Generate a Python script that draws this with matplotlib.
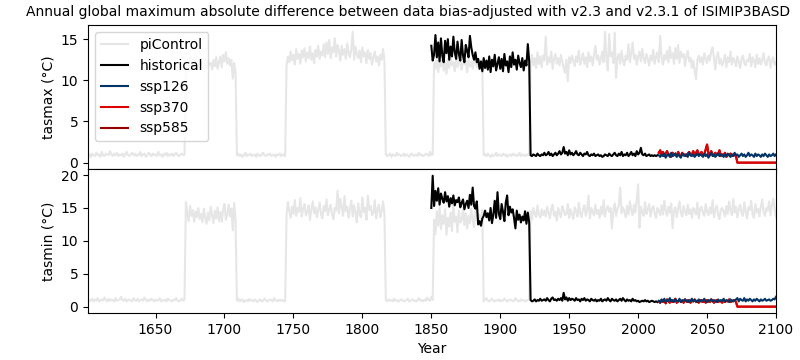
import numpy as np
import matplotlib
matplotlib.use("Agg")
import matplotlib.pyplot as plt

# ───────────── years ─────────────
years_picontrol = np.arange(1601, 2101)
years_historical = np.arange(1850, 2015)
years_ssp = np.arange(2015, 2101)
year_ticks = [1650, 1700, 1750, 1800, 1850, 1900, 1950, 2000, 2050, 2100]

# ───────────── tasmax ─────────────
picontrol_tasmax = [
    # 1601-1671
    0.8, 1.0, 0.7, 1.1, 0.9, 0.8, 1.2, 0.9, 1.0, 0.7,
    1.3, 0.9, 0.8, 1.1, 1.0, 0.9, 1.4, 1.0, 0.8, 1.1,
    0.9, 1.2, 0.8, 1.0, 0.9, 1.1, 0.7, 1.0, 1.3, 0.9,
    0.8, 1.0, 1.2, 0.9, 1.1, 0.8, 1.0, 0.9, 1.3, 0.8,
    1.0, 1.1, 0.7, 0.9, 1.2, 1.0, 0.8, 1.1, 0.9, 1.0,
    0.8, 1.3, 0.9, 1.0, 0.7, 1.1, 0.9, 1.2, 0.8, 1.0,
    0.9, 1.1, 0.8, 1.0, 1.2, 0.9, 0.8, 1.0, 1.1, 0.9,
    1.0,
    # 1672-1708
    11.6, 12.3, 11.2, 12.8, 11.9, 12.5, 11.4, 12.9, 12.0, 11.3,
    12.6, 11.8, 12.2, 11.1, 12.7, 11.5, 12.4, 11.9, 12.1, 11.3,
    12.5, 11.7, 12.8, 11.4, 12.2, 12.9, 11.6, 13.1, 12.3, 13.4,
    12.0, 12.7, 11.8, 12.5, 10.2, 12.1, 11.0,
    # 1709-1744
    0.9, 1.1, 0.8, 1.0, 0.7, 0.9, 1.2, 0.8, 1.0, 0.9,
    1.1, 0.8, 0.9, 1.0, 0.7, 1.1, 0.9, 0.8, 1.0, 1.2,
    0.9, 0.8, 1.0, 0.9, 1.1, 0.8, 0.9, 1.0, 0.7, 1.0,
    0.9, 1.1, 0.8, 1.0, 0.9, 0.8,
    # 1745-1816
    11.8, 12.9, 12.2, 13.5, 12.4, 13.1, 11.9, 13.8, 12.6, 13.2,
    12.0, 13.6, 12.8, 13.9, 12.3, 13.4, 12.7, 14.1, 12.5, 13.3,
    12.1, 13.7, 12.9, 14.2, 12.6, 13.5, 13.0, 14.4, 12.8, 14.6,
    13.2, 14.9, 12.7, 14.0, 13.4, 15.1, 12.9, 14.3, 13.6, 12.4,
    14.2, 13.1, 13.8, 12.6, 14.5, 13.3, 12.8, 13.9, 15.9, 12.5,
    14.1, 13.2, 12.7, 13.6, 12.2, 14.0, 12.9, 13.4, 12.1, 13.7,
    12.6, 13.3, 11.9, 12.8, 13.5, 12.3, 12.9, 11.8, 13.1, 12.5,
    13.8, 12.4,
    # 1817-1851
    1.0, 0.8, 0.9, 1.1, 0.7, 1.0, 0.9, 0.8, 1.2, 0.9,
    1.0, 0.8, 0.9, 1.1, 0.8, 1.0, 0.9, 0.7, 1.0, 1.1,
    0.8, 0.9, 1.0, 0.8, 1.2, 0.9, 1.0, 0.8, 0.9, 1.1,
    1.0, 0.8, 1.3, 0.9, 1.0,
    # 1852-1887
    12.1, 11.4, 12.8, 11.0, 12.5, 11.7, 13.0, 11.2, 12.3, 10.8,
    12.6, 11.5, 12.9, 11.8, 12.2, 11.1, 12.7, 11.6, 13.2, 12.0,
    11.3, 12.8, 11.9, 12.4, 11.0, 12.6, 11.7, 12.3, 11.4, 12.9,
    12.1, 11.6, 12.5, 11.8, 12.2, 11.5,
    # 1888-1921
    0.9, 1.0, 0.8, 1.1, 0.9, 0.7, 1.0, 0.8, 0.9, 1.2,
    0.8, 1.0, 0.9, 0.8, 1.1, 0.9, 1.0, 0.7, 0.9, 1.0,
    0.8, 1.1, 0.9, 1.0, 0.8, 0.9, 1.2, 0.8, 1.0, 0.9,
    0.8, 1.0, 0.9, 1.1,
    # 1922-2100
    12.3, 13.1, 11.8, 12.7, 11.5, 13.4, 12.0, 12.9, 11.6, 13.0,
    12.4, 15.3, 11.9, 12.8, 12.2, 13.5, 11.4, 12.6, 13.2, 12.0,
    12.7, 11.8, 13.1, 12.3, 11.5, 10.9, 12.5, 9.9, 12.8, 12.1,
    13.0, 12.4, 11.7, 12.9, 12.2, 13.6, 11.9, 12.5, 13.3, 12.0,
    12.8, 11.6, 13.4, 12.3, 12.9, 11.8, 13.1, 14.2, 12.5, 13.0,
    11.9, 12.7, 13.5, 12.2, 15.9, 12.6, 11.2, 15.6, 12.9, 13.4,
    12.1, 15.8, 10.3, 12.7, 13.2, 12.0, 13.6, 12.4, 11.8, 13.0,
    12.5, 14.4, 12.2, 13.3, 14.6, 12.6, 13.1, 11.9, 12.8, 13.5,
    12.3, 13.8, 12.7, 12.1, 13.2, 12.6, 11.8, 13.0, 12.4, 13.7,
    12.0, 12.9, 13.4, 12.2, 15.4, 12.8, 11.9, 13.1, 12.5, 13.6,
    12.2, 14.1, 12.7, 13.3, 12.0, 13.9, 12.6, 14.3, 12.1, 13.5,
    12.8, 13.2, 11.7, 12.9, 13.6, 12.3, 12.7, 11.5, 12.4, 11.2,
    10.1, 12.5, 13.0, 12.2, 12.8, 11.9, 13.3, 12.6, 12.1, 13.0,
    12.4, 13.6, 14.0, 12.7, 11.3, 12.9, 13.4, 12.0, 12.6, 11.8,
    12.3, 13.1, 11.6, 12.8, 12.2, 13.5, 11.9, 12.7, 12.4, 11.7,
    12.9, 12.2, 11.5, 12.6, 13.0, 12.1, 11.8, 12.5, 12.3, 13.2,
    11.7, 12.8, 12.4, 11.6, 13.1, 12.0, 12.7, 11.9, 12.5, 13.3,
    12.1, 11.8, 12.6, 12.9, 11.5, 12.4, 12.8, 11.9, 12.2,
]

historical_tasmax = [
    # 1850-1921
    14.2, 12.4, 13.1, 15.5, 12.8, 14.6, 12.3, 15.1, 13.0, 12.2,
    14.8, 13.3, 15.0, 12.5, 14.1, 12.9, 15.3, 13.4, 12.6, 14.7,
    13.2, 12.4, 14.9, 13.0, 12.2, 14.3, 13.6, 12.8, 15.4, 14.0,
    13.1, 12.5, 13.4, 12.2, 12.6, 11.4, 12.3, 11.1, 12.7, 11.5,
    12.4, 11.3, 12.9, 11.0, 12.5, 11.7, 13.1, 11.2, 12.0, 12.8,
    11.4, 12.6, 11.1, 13.2, 11.8, 12.3, 11.0, 12.9, 11.6, 13.4,
    11.9, 12.5, 11.3, 13.0, 12.1, 11.6, 12.7, 11.2, 12.4, 11.8,
    14.4, 12.3,
    # 1922-2014
    0.9, 0.8, 1.0, 0.9, 0.8, 1.1, 0.9, 0.8, 1.0, 0.9,
    1.2, 0.9, 1.0, 1.3, 0.9, 1.1, 0.8, 1.0, 1.2, 0.9,
    1.1, 1.4, 1.0, 1.2, 1.9, 1.1, 1.3, 0.9, 1.5, 1.0,
    1.2, 0.9, 1.1, 1.4, 1.0, 0.9, 1.2, 1.0, 0.8, 1.1,
    1.0, 1.3, 0.9, 0.8, 1.0, 0.9, 1.1, 0.8, 0.9, 1.0,
    0.8, 0.9, 0.7, 0.8, 1.0, 0.9, 0.8, 1.1, 0.9, 0.8,
    1.0, 1.2, 0.9, 0.8, 1.1, 0.9, 1.3, 0.8, 1.0, 0.9,
    1.2, 0.8, 1.0, 1.3, 0.9, 1.1, 0.8, 1.4, 1.0, 1.2,
    1.8, 1.0, 0.9, 1.1, 0.8, 0.9, 1.0, 0.8, 0.9, 0.8,
    0.9, 0.8, 0.9,
]

ssp126_tasmax = [
    0.9, 0.7, 1.0, 0.8, 1.1, 0.6, 0.9, 1.0, 0.7, 1.2,
    0.8, 0.9, 1.1, 0.7, 1.0, 0.8, 0.6, 1.1, 0.9, 0.8,
    1.0, 0.7, 1.2, 0.9, 0.8, 1.0, 0.7, 0.9, 1.1, 0.8,
    1.0, 0.9, 0.7, 1.1, 0.8, 1.0, 0.6, 0.9, 1.2, 0.8,
    1.0, 0.7, 0.9, 1.1, 0.8, 1.0, 0.9, 0.7, 1.0, 0.8,
    1.1, 0.9, 0.7, 1.0, 0.8, 1.2, 0.9, 1.0, 0.7, 0.9,
    1.1, 0.8, 1.0, 0.7, 0.9, 1.2, 0.8, 1.0, 0.9, 0.7,
    1.1, 0.8, 1.0, 0.9, 0.7, 1.0, 0.8, 1.1, 0.9, 0.7,
    1.0, 0.8, 0.9, 1.1, 0.8, 1.0,
]

ssp370_tasmax = [
    1.2, 1.5, 0.9, 1.3, 0.8, 1.1, 1.4, 0.9, 1.0, 0.7,
    1.2, 0.9, 1.1, 0.8, 1.3, 1.0, 0.7, 1.2, 0.9, 1.0,
    0.8, 1.1, 1.3, 0.9, 1.0, 1.4, 0.8, 1.2, 1.5, 0.9,
    1.1, 1.3, 0.8, 1.0, 1.6, 2.2, 1.1, 0.9, 1.4, 1.0,
    0.8, 1.2, 0.9, 1.1, 1.5, 0.8, 1.0, 0.9, 1.2, 0.7,
    1.0, 0.9, 1.1, 0.8, 1.0, 0.9, 0.8,
    0.0, 0.0, 0.0, 0.0, 0.0, 0.0, 0.0, 0.0, 0.0, 0.0,
    0.0, 0.0, 0.0, 0.0, 0.0, 0.0, 0.0, 0.0, 0.0, 0.0,
    0.0, 0.0, 0.0, 0.0, 0.0, 0.0, 0.0, 0.0, 0.0,
]
# ssp585 is not visible in the reference (hidden under ssp370)
ssp585_tasmax = list(ssp370_tasmax)

# ───────────── tasmin ─────────────
picontrol_tasmin = [
    # 1601-1671
    0.8, 1.0, 0.9, 1.2, 0.8, 1.1, 0.9, 1.3, 0.8, 1.0,
    1.1, 0.9, 1.4, 1.0, 0.8, 1.2, 0.9, 1.1, 1.0, 0.8,
    1.3, 0.9, 1.0, 1.1, 1.5, 1.0, 0.9, 1.2, 0.8, 1.0,
    1.1, 0.9, 0.8, 1.3, 1.0, 0.9, 1.2, 0.8, 1.0, 1.1,
    0.9, 1.4, 1.0, 0.8, 1.1, 0.9, 1.2, 1.0, 0.8, 1.1,
    0.9, 1.0, 1.3, 0.8, 1.0, 0.9, 1.1, 0.8, 1.2, 1.0,
    0.9, 0.8, 1.1, 1.0, 1.3, 0.9, 0.8, 1.0, 1.2, 0.9,
    1.1,
    # 1672-1708
    15.9, 14.2, 13.0, 15.3, 13.8, 14.7, 12.9, 14.5, 13.6, 15.0,
    13.3, 14.1, 12.8, 14.9, 13.5, 12.6, 14.3, 13.1, 15.2, 13.9,
    12.7, 14.6, 13.4, 15.1, 13.0, 14.4, 12.9, 14.8, 15.6, 13.2,
    14.0, 15.5, 13.7, 14.9, 11.6, 15.8, 13.0,
    # 1709-1744
    0.9, 1.2, 0.8, 1.0, 1.1, 0.7, 0.9, 1.0, 0.8, 1.2,
    0.9, 1.0, 0.8, 1.1, 0.9, 0.7, 1.0, 1.1, 0.8, 0.9,
    1.2, 1.0, 0.8, 0.9, 1.1, 1.0, 0.8, 1.3, 0.9, 1.0,
    0.8, 1.1, 0.9, 1.0, 0.8, 0.9,
    # 1745-1816
    14.0, 15.9, 14.6, 13.5, 15.2, 14.1, 16.2, 13.8, 15.0, 14.4,
    16.5, 13.7, 14.9, 15.6, 13.9, 14.3, 15.4, 13.2, 14.8, 16.0,
    14.2, 15.1, 13.6, 14.7, 15.8, 14.0, 13.4, 15.3, 14.5, 16.3,
    13.9, 14.8, 15.5, 14.1, 13.3, 15.0, 14.6, 17.6, 14.2, 16.4,
    15.1, 13.8, 16.8, 14.5, 15.2, 13.5, 14.9, 16.1, 13.7, 15.4,
    14.3, 12.8, 15.7, 14.0, 13.6, 16.6, 14.4, 15.0, 13.2, 16.9,
    14.7, 15.3, 13.9, 14.2, 16.2, 13.4, 14.8, 15.5, 13.6, 14.5,
    16.0, 14.1,
    # 1817-1851
    1.0, 0.8, 1.1, 0.9, 1.0, 0.8, 1.2, 0.9, 1.0, 0.8,
    0.9, 1.1, 1.0, 0.8, 0.9, 1.0, 1.2, 0.8, 0.9, 1.1,
    1.0, 0.9, 0.8, 1.0, 1.3, 0.9, 1.0, 0.8, 1.1, 0.9,
    1.4, 1.0, 0.9, 1.5, 1.0,
    # 1852-1887
    13.2, 11.0, 14.5, 12.3, 15.1, 11.8, 13.9, 12.6, 14.8, 10.9,
    13.5, 12.2, 14.3, 11.5, 15.6, 12.9, 13.7, 11.3, 14.6, 12.8,
    13.1, 15.0, 12.4, 14.2, 11.9, 13.8, 12.7, 14.9, 13.3, 12.1,
    15.2, 13.6, 12.5, 14.0, 13.0, 14.7,
    # 1888-1921
    0.8, 1.1, 1.3, 0.9, 0.8, 1.0, 1.2, 0.9, 0.8, 1.0,
    0.9, 1.1, 0.8, 1.0, 0.9, 1.2, 1.0, 0.8, 0.9, 1.1,
    1.0, 0.8, 0.9, 1.3, 1.0, 0.9, 0.8, 1.1, 0.9, 1.0,
    0.8, 0.9, 1.0, 1.1,
    # 1922-2100
    14.5, 13.2, 15.0, 14.1, 13.6, 15.4, 14.0, 13.5, 14.8, 13.9,
    14.6, 13.7, 15.2, 14.3, 13.4, 14.9, 15.5, 13.8, 14.4, 13.1,
    15.0, 14.2, 13.6, 15.3, 14.7, 13.9, 14.1, 15.6, 13.5, 14.8,
    14.0, 13.3, 15.1, 14.5, 13.7, 15.8, 14.2, 13.6, 14.9, 15.4,
    13.8, 14.6, 16.9, 13.4, 15.0, 14.3, 13.9, 15.5, 14.1, 14.7,
    13.5, 15.2, 14.0, 16.2, 13.7, 14.8, 15.3, 14.4, 15.0, 11.9,
    14.6, 15.7, 13.8, 14.9, 15.4, 18.1, 14.2, 15.1, 14.5, 13.6,
    15.3, 14.0, 16.0, 14.7, 13.9, 15.5, 14.3, 16.3, 18.6, 12.0,
    15.2, 14.4, 13.8, 15.9, 14.1, 14.8, 15.6, 13.7, 14.9, 15.3,
    14.2, 13.5, 15.0, 14.6, 13.9, 15.4, 14.0, 16.1, 14.5, 13.8,
    15.2, 14.3, 15.7, 11.9, 14.7, 15.1, 13.6, 14.9, 16.0, 14.2,
    13.7, 15.3, 14.4, 13.9, 15.5, 14.1, 14.8, 13.5, 15.0, 14.6,
    14.0, 15.8, 13.4, 14.9, 15.2, 14.3, 13.8, 15.6, 14.5, 13.9,
    15.1, 14.2, 16.2, 13.6, 14.7, 15.4, 14.0, 13.3, 14.8, 15.0,
    14.4, 13.7, 15.3, 14.1, 16.0, 14.6, 13.9, 16.4, 14.3, 15.2,
    13.6, 14.8, 15.5, 14.2, 13.8, 15.9, 14.5, 13.4, 15.1, 14.7,
    16.1, 14.0, 13.5, 15.6, 14.3, 14.9, 13.7, 15.2, 16.3, 14.4,
    13.8, 15.0, 14.6, 16.0, 13.9, 15.4, 16.4, 14.8, 13.6,
]

historical_tasmin = [
    # 1850-1921
    15.0, 19.9, 15.3, 17.6, 16.1, 18.0, 15.5, 17.2, 16.4, 15.8,
    17.4, 16.0, 16.8, 15.2, 16.5, 15.7, 16.9, 15.4, 16.2, 15.9,
    16.6, 15.1, 15.8, 16.3, 14.8, 15.6, 16.1, 15.0, 17.0, 15.5,
    18.1, 15.3, 14.9, 16.0, 12.5, 13.0, 12.3, 13.4, 13.8, 14.6,
    13.6, 14.2, 13.1, 15.0, 12.7, 14.0, 16.1, 13.5, 17.4, 14.1,
    13.3, 15.6, 14.4, 13.0, 15.8, 16.9, 13.9, 15.2, 14.3, 14.8,
    13.5, 11.9, 14.6, 13.2, 14.0, 12.8, 13.7, 13.1, 14.5, 12.6,
    14.3, 12.8,
    # 1922-2014
    1.0, 0.8, 0.9, 1.1, 0.8, 1.0, 0.9, 1.2, 0.9, 1.0,
    1.1, 0.9, 1.3, 1.0, 0.8, 1.2, 1.4, 1.0, 1.1, 0.9,
    1.2, 1.0, 1.3, 0.9, 2.1, 1.1, 1.4, 0.9, 1.3, 1.0,
    1.2, 1.1, 0.9, 1.3, 1.0, 1.1, 0.8, 1.2, 1.0, 1.3,
    0.9, 1.1, 1.0, 0.8, 1.2, 1.0, 0.9, 1.1, 0.8, 1.0,
    0.9, 1.2, 0.8, 1.0, 1.1, 0.9, 1.3, 1.0, 0.8, 1.2,
    1.0, 0.9, 1.1, 0.8, 1.0, 1.2, 0.9, 1.3, 1.0, 0.8,
    1.1, 0.9, 1.0, 0.8, 1.2, 0.9, 1.0, 0.8, 0.9, 0.7,
    0.8, 0.9, 0.8, 1.0, 0.8, 0.9, 0.7, 0.8, 0.9, 0.8,
    0.7, 0.8, 0.7,
]

ssp126_tasmin = [
    0.9, 0.6, 1.1, 0.8, 1.2, 0.7, 1.0, 0.9, 1.3, 0.8,
    1.0, 0.7, 1.1, 0.9, 0.8, 1.2, 0.7, 1.0, 0.9, 1.1,
    0.8, 1.0, 0.7, 0.9, 1.2, 0.8, 1.0, 0.9, 0.7, 1.1,
    0.8, 1.0, 0.9, 1.2, 0.8, 0.7, 1.0, 0.9, 1.1, 0.8,
    1.0, 0.9, 0.7, 1.1, 0.8, 1.0, 0.9, 1.2, 0.8, 1.0,
    0.9, 0.7, 1.1, 0.8, 1.0, 0.9, 1.1, 1.3, 0.8, 1.2,
    1.0, 0.9, 1.3, 0.8, 1.1, 0.9, 1.2, 1.0, 0.8, 1.1,
    0.9, 1.2, 1.0, 0.8, 1.1, 0.9, 1.0, 1.2, 0.9, 1.0,
    1.1, 0.9, 1.0, 1.2, 1.1, 1.5,
]

ssp370_tasmin = [
    0.8, 0.6, 1.0, 0.7, 0.9, 0.5, 1.1, 0.8, 0.6, 1.0,
    0.7, 0.9, 1.2, 0.6, 0.8, 1.0, 0.7, 0.9, 0.6, 1.1,
    0.8, 0.7, 1.0, 0.6, 0.9, 0.8, 1.1, 0.7, 0.9, 0.6,
    1.0, 0.8, 0.7, 0.9, 0.6, 1.0, 0.8, 0.7, 1.1, 0.9,
    0.6, 0.8, 1.0, 0.7, 0.9, 0.8, 0.6, 1.0, 0.7, 0.9,
    0.8, 1.1, 0.7, 0.9, 0.8, 1.0, 0.7,
    0.0, 0.0, 0.0, 0.0, 0.0, 0.0, 0.0, 0.0, 0.0, 0.0,
    0.0, 0.0, 0.0, 0.0, 0.0, 0.0, 0.0, 0.0, 0.0, 0.0,
    0.0, 0.0, 0.0, 0.0, 0.0, 0.0, 0.0, 0.0, 0.0,
]
ssp585_tasmin = list(ssp370_tasmin)

COLORS = {
    "piControl": "#e6e6e6",
    "historical": "black",
    "ssp126": "#003466",
    "ssp370": "#df0000",
    "ssp585": "#980002",
}


def draw_panel(ax, pic, hist, s126, s370, s585, ylabel):
    h = {}
    h["piControl"], = ax.plot(years_picontrol, pic, color=COLORS["piControl"], lw=1.5)
    h["historical"], = ax.plot(years_historical, hist, color=COLORS["historical"], lw=1.5)
    h["ssp585"], = ax.plot(years_ssp, s585, color=COLORS["ssp585"], lw=1.5)
    h["ssp370"], = ax.plot(years_ssp, s370, color=COLORS["ssp370"], lw=1.5)
    h["ssp126"], = ax.plot(years_ssp, s126, color=COLORS["ssp126"], lw=1.5)
    ax.set_ylabel(ylabel)
    return h


fig, (ax1, ax2) = plt.subplots(2, 1, sharex=True, figsize=(8, 3.6), dpi=100)
fig.subplots_adjust(left=0.11, right=0.97, top=0.93, bottom=0.13, hspace=0)

handles = draw_panel(ax1, picontrol_tasmax, historical_tasmax, ssp126_tasmax,
                     ssp370_tasmax, ssp585_tasmax, "tasmax (°C)")
draw_panel(ax2, picontrol_tasmin, historical_tasmin, ssp126_tasmin,
           ssp370_tasmin, ssp585_tasmin, "tasmin (°C)")

ax1.set_yticks([0, 5, 10, 15])
ax2.set_yticks([0, 5, 10, 15, 20])
ax2.set_xticks(year_ticks)
ax2.set_xlim(1601, 2100)
ax2.set_xlabel("Year")

order = ["piControl", "historical", "ssp126", "ssp370", "ssp585"]
ax1.legend([handles[k] for k in order], order, loc="upper left")

fig.suptitle("Annual global maximum absolute difference between data bias-adjusted "
             "with v2.3 and v2.3.1 of ISIMIP3BASD", fontsize=10, x=0.51, y=0.985)

fig.savefig("out.png", dpi=100)
